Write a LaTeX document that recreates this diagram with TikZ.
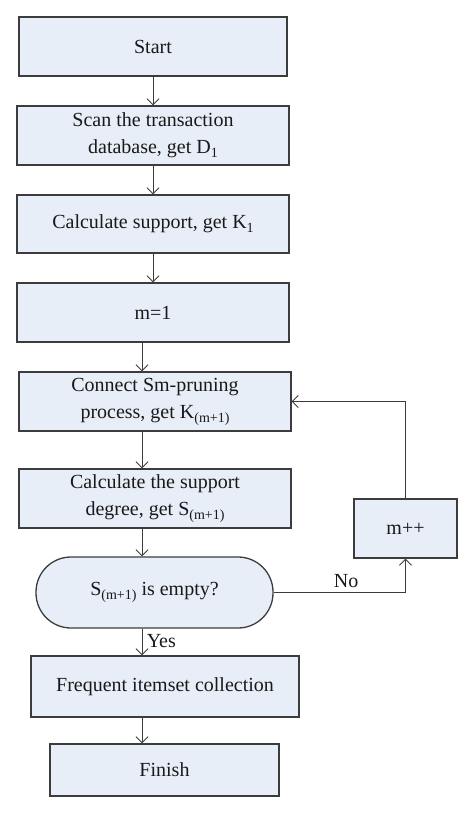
\documentclass[tikz,border=0pt]{standalone}
\usepackage{fontspec}
\setmainfont{Liberation Serif}
\usetikzlibrary{arrows.meta}
\definecolor{boxfill}{HTML}{E8EEF7}
\definecolor{edge}{HTML}{3C3C3C}
\newcommand{\lowsub}[1]{\raisebox{-0.45ex}{\fontsize{14}{14}\selectfont #1}}
\tikzset{
  flowbox/.style={draw=edge, line width=1.3pt, fill=boxfill, inner sep=0pt, align=center,
     font=\fontsize{20}{27}\selectfont, text=black!90},
  flowarrow/.style={draw=edge, line width=0.9pt, -{Straight Barb[length=6pt,width=12pt]}},
  lbl/.style={font=\fontsize{20}{22}\selectfont, text=black!90}
}
\begin{document}
\begin{tikzpicture}[x=1pt,y=-1pt]
\useasboundingbox (0,0) rectangle (474,813);
\node[flowbox, minimum width=268pt, minimum height=59pt] (start) at (153,46.5) {Start};
\node[flowbox, minimum width=272pt, minimum height=59pt] (scan) at (153,135.5) {Scan the transaction\\database, get D\lowsub{1}};
\node[flowbox, minimum width=272pt, minimum height=58pt] (calc) at (153,224) {Calculate support, get K\lowsub{1}};
\node[flowbox, minimum width=272pt, minimum height=59pt] (m1) at (153,312.5) {m=1};
\node[flowbox, minimum width=272pt, minimum height=59pt] (conn) at (155,401.5) {Connect Sm-pruning\\process, get K\lowsub{(m+1)}};
\node[flowbox, minimum width=272pt, minimum height=59pt] (deg) at (155,498.5) {Calculate the support\\degree, get S\lowsub{(m+1)}};
\node[flowbox, minimum width=103pt, minimum height=59pt] (mpp) at (405.5,528.5) {m++};
\node[flowbox, minimum width=237pt, minimum height=71pt, rounded corners=35pt] (dec) at (154.5,592.5) {S\lowsub{(m+1)} is empty?};
\node[flowbox, minimum width=268pt, minimum height=61pt] (freq) at (165,686.5) {Frequent itemset collection};
\node[flowbox, minimum width=229pt, minimum height=52pt] (fin) at (164.5,770) {Finish};
\draw[flowarrow] (start.south) -- (scan.north);
\draw[flowarrow] (scan.south) -- (calc.north);
\draw[flowarrow] (calc.south) -- (m1.north);
\draw[flowarrow] (m1.south -| 142,0) -- (conn.north -| 142,0);
\draw[flowarrow] (conn.south -| 142,0) -- (deg.north -| 142,0);
\draw[flowarrow] (deg.south -| 142,0) -- (dec.north -| 142,0);
\draw[flowarrow] (dec.south -| 142,0) -- node[lbl, right=1pt, pos=0.45] (yes) {Yes} (freq.north -| 142,0);
\draw[flowarrow] (freq.south -| 142,0) -- (fin.north -| 142,0);
\draw[flowarrow] (dec.east) -- (dec.east -| mpp.south) node[lbl, pos=0.55, above=1pt] (no) {No} -- (mpp.south);
\draw[flowarrow] (mpp.north) -- (mpp.north |- conn.east) -- (conn.east);
\end{tikzpicture}
\end{document}
